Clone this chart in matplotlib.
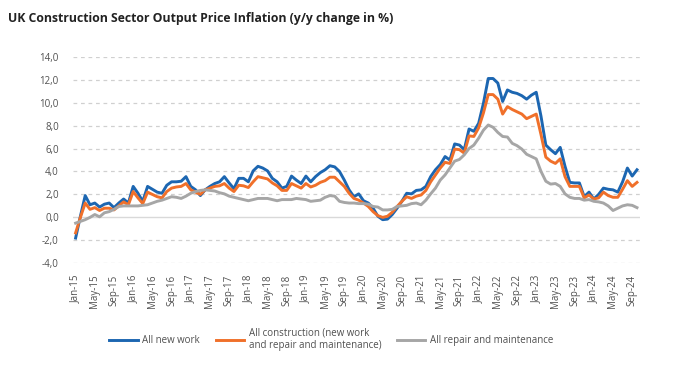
import matplotlib
matplotlib.use('Agg')
import matplotlib.pyplot as plt
import numpy as np
import pandas as pd

# monthly y/y change in %, Jan-15 .. Oct-24
start_month = '2015-01'

new_work = [
    -1.8, 0.1, 1.9, 1.1, 1.25, 0.9, 1.15, 1.25, 0.85, 1.25, 1.6, 1.25,
    2.7, 2.1, 1.4, 2.7, 2.45, 2.2, 2.1, 2.8, 3.1, 3.1, 3.15, 3.55,
    2.7, 2.4, 1.9, 2.4, 2.7, 2.95, 3.1, 3.55, 3.0, 2.5, 3.4, 3.4,
    3.1, 4.05, 4.45, 4.3, 4.05, 3.4, 3.1, 2.55, 2.7, 3.6, 3.25, 2.95,
    3.6, 3.1, 3.55, 3.9, 4.15, 4.5, 4.4, 4.0, 3.25, 2.4, 1.8, 2.05,
    1.45, 1.25, 0.8, 0.1, -0.2, -0.15, 0.25, 0.8, 1.4, 2.1, 2.05, 2.35,
    2.4, 2.7, 3.55, 4.15, 4.6, 5.3, 5.0, 6.4, 6.3, 5.9, 7.7, 7.5,
    8.2, 9.95, 12.1, 12.1, 11.7, 10.1, 11.1, 10.9, 10.8, 10.6, 10.3, 10.65,
    10.9, 8.8, 6.3, 5.9, 5.55, 6.1, 4.45, 3.05, 3.0, 3.0, 1.8, 2.2,
    1.6, 2.0, 2.55, 2.45, 2.4, 2.2, 3.1, 4.3, 3.6, 4.15,
]

all_construction = [
    -1.35, 0.0, 1.25, 0.7, 0.85, 0.6, 0.8, 0.8, 0.65, 1.0, 1.35, 1.1,
    2.25, 1.7, 1.2, 2.2, 2.0, 1.8, 1.7, 2.25, 2.55, 2.65, 2.7, 2.95,
    2.4, 2.2, 2.0, 2.4, 2.55, 2.7, 2.75, 2.95, 2.55, 2.25, 2.8, 2.75,
    2.6, 3.1, 3.55, 3.45, 3.35, 3.0, 2.75, 2.35, 2.35, 2.95, 2.75, 2.55,
    2.95, 2.65, 2.8, 3.05, 3.2, 3.5, 3.5, 3.1, 2.7, 2.1, 1.65, 1.5,
    1.25, 0.95, 0.5, 0.15, 0.0, 0.1, 0.45, 0.95, 1.4, 1.8, 1.65, 1.85,
    1.95, 2.35, 3.1, 3.7, 4.3, 4.8, 4.7, 5.95, 5.9, 5.6, 7.1, 7.05,
    7.8, 9.1, 10.7, 10.7, 10.3, 9.0, 9.65, 9.4, 9.2, 9.0, 8.6, 8.8,
    9.0, 7.2, 5.25, 4.9, 4.7, 5.1, 3.55, 2.7, 2.7, 2.7, 1.7, 1.95,
    1.6, 1.7, 2.2, 1.9, 1.75, 1.75, 2.45, 3.2, 2.7, 3.05,
]

repair_maint = [
    -0.5, -0.35, -0.2, 0.0, 0.25, 0.05, 0.4, 0.5, 0.7, 0.95, 1.0, 1.0,
    1.0, 1.0, 1.05, 1.1, 1.25, 1.4, 1.5, 1.65, 1.8, 1.75, 1.65, 1.85,
    2.1, 2.25, 2.35, 2.4, 2.35, 2.3, 2.15, 2.05, 1.85, 1.75, 1.65, 1.55,
    1.45, 1.55, 1.65, 1.65, 1.65, 1.55, 1.45, 1.55, 1.55, 1.55, 1.65, 1.6,
    1.55, 1.4, 1.45, 1.5, 1.75, 1.9, 1.85, 1.4, 1.3, 1.25, 1.25, 1.2,
    1.2, 1.15, 0.95, 0.9, 0.65, 0.65, 0.7, 0.95, 1.0, 1.05, 1.2, 1.25,
    1.1, 1.5, 2.05, 2.55, 3.25, 3.7, 4.3, 4.9, 5.05, 5.45, 6.0, 6.3,
    6.9, 7.6, 8.05, 7.85, 7.4, 7.05, 7.0, 6.45, 6.25, 5.95, 5.5, 5.3,
    5.1, 4.0, 3.15, 2.9, 2.95, 2.7, 2.05, 1.75, 1.65, 1.65, 1.5, 1.55,
    1.4, 1.35, 1.25, 1.0, 0.6, 0.8, 1.0, 1.1, 1.05, 0.85,
]

series_names = ['All new work',
                'All construction (new work\nand repair and maintenance)',
                'All repair and maintenance']
series_colors = ['#1c66b1', '#f0702a', '#a6a6a6']

months = pd.date_range(start_month, periods=len(new_work), freq='MS')
month_labels = [m.strftime('%b-%y') for m in months]
x = np.arange(len(new_work))

plt.rcParams['font.family'] = ['Open Sans', 'DejaVu Sans']

fig = plt.figure(figsize=(6.94, 3.66), dpi=100)
ax = fig.add_axes([0.1048, 0.2806, 0.8172, 0.5645])

for yv in np.arange(-4, 15, 2):
    if yv == 0:
        ax.axhline(0, color='#d9d9d9', lw=1.0, zorder=1)
    else:
        ax.axhline(yv, color='#d0d0d0', lw=0.9, ls=(0, (3, 3)), zorder=1)

handles = []
for vals, name, col in zip([new_work, all_construction, repair_maint],
                           series_names, series_colors):
    h, = ax.plot(x, vals, color=col, lw=2.1, label=name, zorder=3,
                 solid_joinstyle='round')
    handles.append(h)

ax.set_ylim(-4, 14)
ax.set_xlim(-0.6, len(new_work) - 0.4)
ax.set_yticks(np.arange(-4, 15, 2))
ax.set_yticklabels(['{:.1f}'.format(v).replace('.', ',') for v in np.arange(-4, 15, 2)],
                   fontsize=7, color='#505050')
ax.set_xticks(x[::4])
ax.set_xticklabels(month_labels[::4], rotation=90, fontsize=7, color='#505050')
ax.tick_params(axis='both', length=0)
ax.tick_params(axis='y', pad=10)
ax.tick_params(axis='x', pad=8)
for s in ax.spines.values():
    s.set_visible(False)

fig.text(0.012, 0.95, 'UK Construction Sector Output Price Inflation (y/y change in %)',
         fontsize=8.8, fontweight='bold', color='#222222', va='center', ha='left')

fig.legend(handles=handles, labels=series_names, ncol=3, frameon=False,
           loc='upper left', bbox_to_anchor=(0.145, 0.13),
           fontsize=7, labelcolor='#505050', handlelength=2.9,
           handletextpad=0.5, columnspacing=1.6)

fig.savefig('out.png', dpi=100)
